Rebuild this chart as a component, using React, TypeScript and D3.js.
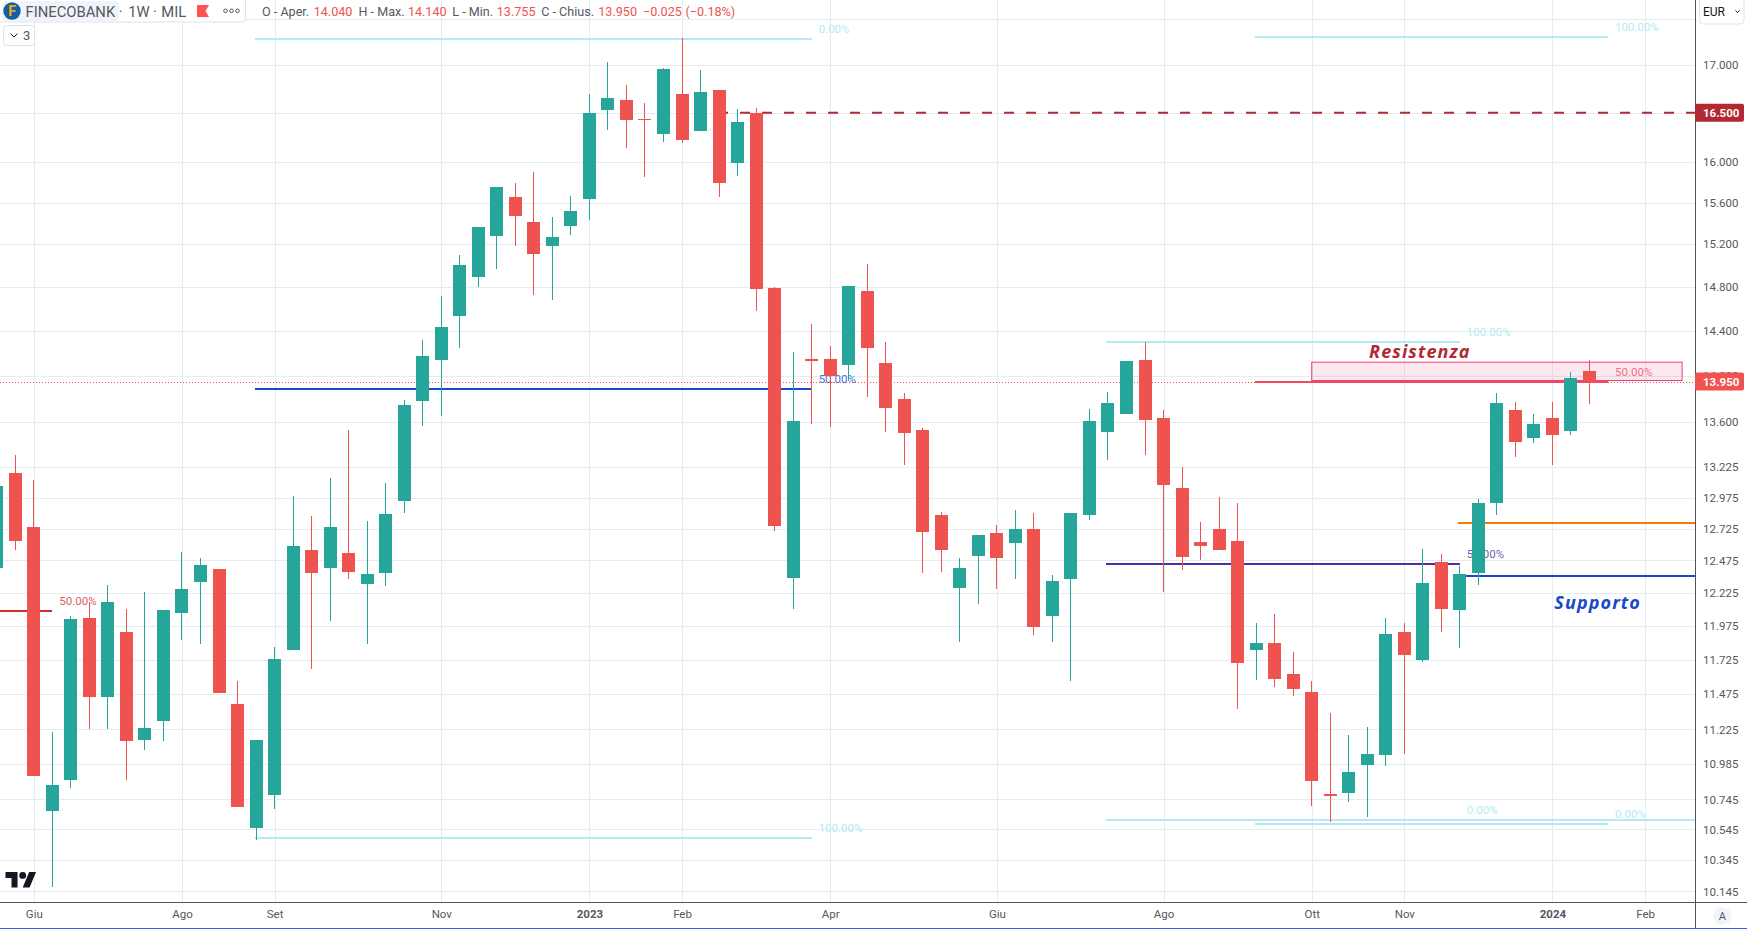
import * as d3 from 'd3';
import React, { useRef, useEffect } from 'react';

const firstIndex = -1;

// weekly candles, oldest first (first bar is mostly off the left edge)
const opens = [12.413, 13.178, 12.741, 10.67, 10.879, 12.036, 11.456, 11.932, 11.153, 11.287, 12.075, 12.311, 12.41, 11.406, 10.557, 10.776, 11.797, 12.556, 12.418, 12.532, 12.295, 12.379, 12.948, 13.784, 14.14, 14.537, 14.893, 15.279, 15.655, 15.414, 15.183, 15.375, 15.635, 16.53, 16.632, 16.438, 16.285, 16.695, 16.315, 16.737, 15.992, 16.5, 14.791, 12.342, 14.149, 14.149, 14.097, 14.763, 14.114, 13.799, 13.536, 12.836, 12.264, 12.511, 12.693, 12.613, 12.725, 12.052, 12.334, 12.836, 13.519, 13.671, 14.14, 13.637, 13.053, 12.621, 12.724, 12.629, 11.797, 11.849, 11.623, 11.492, 10.783, 10.79, 10.981, 11.049, 11.932, 11.724, 12.464, 12.096, 12.379, 12.931, 13.705, 13.468, 13.637, 13.527, 14.04];
const highs = [13.1, 13.325, 13.119, 11.209, 12.051, 12.156, 12.288, 12.105, 12.233, 12.097, 12.54, 12.496, 12.41, 11.572, 11.153, 11.819, 12.988, 12.828, 13.136, 13.536, 12.788, 13.094, 13.79, 14.318, 14.716, 15.098, 15.366, 15.754, 15.792, 15.901, 15.462, 15.665, 16.695, 17.032, 16.79, 16.601, 16.968, 17.289, 16.947, 16.737, 16.54, 16.55, 14.8, 14.21, 14.462, 14.264, 14.809, 15.015, 14.3, 13.851, 13.553, 12.86, 12.496, 12.676, 12.756, 12.875, 12.851, 12.363, 12.851, 13.713, 13.86, 14.132, 14.3, 13.705, 13.226, 12.78, 12.98, 12.931, 11.999, 12.066, 11.782, 11.572, 11.343, 11.188, 11.244, 12.036, 11.999, 12.565, 12.526, 12.433, 12.963, 13.851, 13.773, 13.671, 13.773, 14.035, 14.14];
const lows = [12.35, 12.556, 10.902, 10.173, 10.824, 11.23, 11.23, 10.879, 11.084, 11.146, 11.872, 11.843, 11.486, 10.696, 10.477, 10.683, 11.797, 11.66, 12.014, 12.332, 11.843, 12.28, 12.851, 13.572, 13.654, 14.246, 14.8, 14.968, 15.183, 14.726, 14.679, 15.289, 15.433, 16.325, 16.141, 15.853, 16.203, 16.193, 16.315, 15.655, 15.863, 14.58, 12.709, 12.105, 13.586, 13.561, 13.956, 13.816, 13.519, 13.243, 12.379, 12.387, 11.858, 12.14, 12.257, 12.332, 11.908, 11.858, 11.572, 12.795, 13.284, 13.671, 13.325, 12.233, 12.403, 12.48, 12.557, 11.371, 11.579, 11.528, 11.463, 10.702, 10.596, 10.729, 10.629, 10.974, 11.056, 11.71, 11.932, 11.812, 12.287, 12.836, 13.308, 13.425, 13.243, 13.493, 13.755];
const closes = [13.07, 12.631, 10.902, 10.844, 12.029, 11.456, 12.156, 11.146, 11.238, 12.097, 12.257, 12.441, 11.486, 10.696, 11.153, 11.732, 12.589, 12.379, 12.741, 12.387, 12.372, 12.844, 13.748, 14.175, 14.435, 15.005, 15.366, 15.754, 15.471, 15.108, 15.27, 15.519, 16.5, 16.653, 16.428, 16.428, 16.958, 16.223, 16.716, 15.792, 16.407, 14.781, 12.75, 13.612, 14.132, 14, 14.809, 14.246, 13.722, 13.51, 12.701, 12.556, 12.418, 12.676, 12.496, 12.725, 11.969, 12.319, 12.851, 13.613, 13.765, 14.132, 13.62, 13.078, 12.503, 12.589, 12.557, 11.698, 11.849, 11.586, 11.514, 10.872, 10.769, 10.933, 11.056, 11.917, 11.761, 12.302, 12.104, 12.372, 12.931, 13.765, 13.434, 13.586, 13.493, 13.983, 13.95];

// 17.500 only shows as a grid line, its label sits under the currency button
const gridTicks = [17.5, 17, 16.5, 16, 15.6, 15.2, 14.8, 14.4, 14, 13.6, 13.225, 12.975, 12.725, 12.475, 12.225, 11.975, 11.725, 11.475, 11.225, 10.985, 10.745, 10.545, 10.345, 10.145];
const priceTicks = [17, 16, 15.6, 15.2, 14.8, 14.4, 14, 13.6, 13.225, 12.975, 12.725, 12.475, 12.225, 11.975, 11.725, 11.475, 11.225, 10.985, 10.745, 10.545, 10.345, 10.145];
const timeTickIndex = [1, 9, 14, 23, 31, 36, 44, 53, 62, 70, 75, 83, 88];
const timeTickLabels = ['Giu', 'Ago', 'Set', 'Nov', '2023', 'Feb', 'Apr', 'Giu', 'Ago', 'Ott', 'Nov', '2024', 'Feb'];

const lastPrice = 13.95;
const resistancePrice = 16.5;

// fib levels: [from bar, to bar, price, label, kind]
const fibLevels: [number, number, number, string, string][] = [
  [13, 43, 17.278, '0.00%', 'cyan'],
  [13, 43, 13.889, '50.00%', 'blue'],
  [13, 43, 10.49, '100.00%', 'cyan'],
  [59, 78, 14.3, '100.00%', 'cyan'],
  [59, 78, 12.451, '50.00%', 'purple'],
  [59, 78, 10.605, '0.00%', 'cyan'],
  [67, 86, 17.303, '100.00%', 'cyan'],
  [67, 86, 13.95, '50.00%', 'pink'],
  [67, 86, 10.583, '0.00%', 'cyan'],
  [-3, 2, 12.089, '50.00%', 'red'],
  [78, 100, 12.774, '', 'orange'],
  [78, 100, 12.356, '', 'blue'],
  [78, 100, 10.605, '', 'cyan'],
];

const legendValues = ['14.040', '14.140', '13.755', '13.950', '−0.025', '(−0.18%)'];
const legendNames = ['O - Aper.', 'H - Max.', 'L - Min.', 'C - Chius.'];

const colors = {
  up: '#26a69a',
  down: '#ef5350',
  grid: '#e3ecf1',
  axis: '#50535e',
  text: '#55585f',
  cyan: '#b2ebf2',
  blue: '#1848cc',
  purple: '#512da8',
  pink: '#f2495f',
  red: '#d32f2f',
  orange: '#f57c00',
  darkRed: '#b22833',
};

const width = 1747;
const height = 929;
const plotRight = 1695;
const plotBottom = 902;
const bodyWidth = 13;
const fontFamily = 'Roboto, sans-serif';

function App() {
  const svgRef = useRef<SVGSVGElement>(null);

  useEffect(() => {
    const svg = d3.select(svgRef.current);
    svg.selectAll('*').remove();

    const x = d3.scaleLinear().domain([0, 85]).range([15.3, 1589.5]);
    const y = d3.scaleLog().domain([17, 10.145]).range([65, 891.4]);
    const bars = d3.range(opens.length).map((i) => ({
      index: i + firstIndex,
      open: opens[i],
      high: highs[i],
      low: lows[i],
      close: closes[i],
    }));
    const barColor = (d) => (d.close >= d.open ? colors.up : colors.down);

    svg
      .append('defs')
      .append('clipPath')
      .attr('id', 'plot-clip')
      .append('rect')
      .attr('width', plotRight)
      .attr('height', plotBottom);

    // grid
    const grid = svg.append('g').attr('shape-rendering', 'crispEdges');
    grid
      .append('g')
      .attr('transform', `translate(${plotRight},0)`)
      .call(d3.axisLeft(y).tickValues(gridTicks).tickSize(plotRight).tickFormat(() => ''))
      .call((g) => g.select('.domain').remove())
      .selectAll('line')
      .attr('stroke', colors.grid);
    grid
      .append('g')
      .attr('transform', `translate(0,${plotBottom})`)
      .call(d3.axisTop(x).tickValues(timeTickIndex).tickSize(plotBottom).tickFormat(() => ''))
      .call((g) => g.select('.domain').remove())
      .selectAll('line')
      .attr('stroke', colors.grid);

    const plot = svg.append('g').attr('clip-path', 'url(#plot-clip)');

    // resistance zone
    plot
      .append('rect')
      .attr('x', x(70))
      .attr('y', y(14.12))
      .attr('width', x(90) - x(70))
      .attr('height', y(13.959) - y(14.12))
      .attr('fill', '#ec407a')
      .attr('fill-opacity', 0.12)
      .attr('stroke', '#ec407a')
      .attr('stroke-width', 1);

    // last price + dashed level
    plot
      .append('line')
      .attr('x1', 0)
      .attr('x2', plotRight)
      .attr('y1', Math.round(y(lastPrice)) + 0.5)
      .attr('y2', Math.round(y(lastPrice)) + 0.5)
      .attr('stroke', colors.down)
      .attr('stroke-dasharray', '1 2');
    plot
      .append('line')
      .attr('x1', x(38) - 1)
      .attr('x2', plotRight)
      .attr('y1', y(resistancePrice))
      .attr('y2', y(resistancePrice))
      .attr('stroke', colors.darkRed)
      .attr('stroke-width', 2)
      .attr('stroke-dasharray', '10 12');

    // fib lines and labels
    plot
      .selectAll('.fib')
      .data(fibLevels)
      .join('line')
      .attr('class', 'fib')
      .attr('shape-rendering', 'crispEdges')
      .attr('x1', (d) => x(d[0]) - 1.5)
      .attr('x2', (d) => x(d[1]))
      .attr('y1', (d) => y(d[2]))
      .attr('y2', (d) => y(d[2]))
      .attr('stroke', (d) => colors[d[4]])
      .attr('stroke-width', 2);
    plot
      .selectAll('.fib-label')
      .data(fibLevels.filter((d) => d[3] !== ''))
      .join('text')
      .attr('class', 'fib-label')
      .attr('x', (d) => x(d[1]) + 7)
      .attr('y', (d) => y(d[2]) - 10)
      .attr('dy', '0.35em')
      .attr('font-family', fontFamily)
      .attr('font-size', 11.5)
      .attr('fill', (d) => colors[d[4]])
      .attr('fill-opacity', (d) => (d[4] === 'cyan' ? 1 : 0.8))
      .text((d) => d[3]);

    // candles
    const candles = plot.append('g').attr('shape-rendering', 'crispEdges');
    candles
      .selectAll('.wick')
      .data(bars)
      .join('line')
      .attr('class', 'wick')
      .attr('x1', (d) => Math.floor(x(d.index)) + 0.5)
      .attr('x2', (d) => Math.floor(x(d.index)) + 0.5)
      .attr('y1', (d) => y(d.high))
      .attr('y2', (d) => y(d.low))
      .attr('stroke', barColor);
    candles
      .selectAll('.body')
      .data(bars)
      .join('rect')
      .attr('class', 'body')
      .attr('x', (d) => Math.floor(x(d.index)) - 6)
      .attr('y', (d) => y(Math.max(d.open, d.close)))
      .attr('width', bodyWidth)
      .attr('height', (d) => Math.max(1.5, Math.abs(y(d.open) - y(d.close))))
      .attr('fill', barColor);

    // handwritten notes
    plot
      .append('text')
      .attr('x', x(73.1))
      .attr('y', y(14.21))
      .attr('dy', '0.35em')
      .attr('font-family', '"Open Sans", sans-serif')
      .attr('font-size', 18)
      .attr('font-weight', 700)
      .attr('font-style', 'italic')
      .attr('letter-spacing', 1.1)
      .attr('fill', colors.darkRed)
      .text('Resistenza');
    plot
      .append('text')
      .attr('x', x(83.1))
      .attr('y', y(12.151))
      .attr('dy', '0.35em')
      .attr('font-family', '"Open Sans", sans-serif')
      .attr('font-size', 18)
      .attr('font-weight', 700)
      .attr('font-style', 'italic')
      .attr('letter-spacing', 1.1)
      .attr('fill', colors.blue)
      .text('Supporto');

    // price axis
    const priceAxis = svg
      .append('g')
      .attr('transform', `translate(${plotRight},0)`)
      .call(d3.axisRight(y).tickValues(priceTicks).tickSize(0).tickPadding(8).tickFormat(d3.format('.3f')));
    priceAxis.select('.domain').remove();
    priceAxis.selectAll('text').attr('font-family', fontFamily).attr('font-size', 11.5).attr('fill', colors.text);

    // time axis
    const timeAxis = svg
      .append('g')
      .attr('transform', `translate(0,${plotBottom})`)
      .call(
        d3
          .axisBottom(x)
          .tickValues(timeTickIndex)
          .tickSize(0)
          .tickPadding(8)
          .tickFormat((d, i) => timeTickLabels[i])
      );
    timeAxis.select('.domain').remove();
    timeAxis
      .selectAll('text')
      .attr('font-family', fontFamily)
      .attr('font-size', 11.5)
      .attr('fill', colors.text)
      .attr('font-weight', (d, i) => (timeTickLabels[i].length === 4 ? 700 : 400));

    // axis frame
    const frame = svg.append('g').attr('shape-rendering', 'crispEdges');
    frame.append('line').attr('x1', plotRight + 0.5).attr('x2', plotRight + 0.5).attr('y1', 0).attr('y2', height).attr('stroke', colors.axis);
    frame.append('line').attr('x1', 0).attr('x2', width).attr('y1', plotBottom + 0.5).attr('y2', plotBottom + 0.5).attr('stroke', colors.axis);
    frame.append('line').attr('x1', 0).attr('x2', width).attr('y1', height - 0.5).attr('y2', height - 0.5).attr('stroke', '#2962ff');

    // price tags
    const tags = svg
      .selectAll('.tag')
      .data([
        { price: resistancePrice, color: colors.darkRed },
        { price: lastPrice, color: colors.down },
      ])
      .join('g')
      .attr('class', 'tag')
      .attr('transform', (d) => `translate(${plotRight},${y(d.price)})`);
    tags.append('rect').attr('y', -9).attr('width', 49).attr('height', 18).attr('rx', 2).attr('fill', (d) => d.color);
    tags
      .append('text')
      .attr('x', 8)
      .attr('dy', '0.35em')
      .attr('font-family', fontFamily)
      .attr('font-size', 11.5)
      .attr('font-weight', 700)
      .attr('fill', '#fff')
      .text((d) => d3.format('.3f')(d.price));
  }, []);

  const textStyle = { fontFamily, fill: colors.text };
  const legendNameX = [262, 358.5, 452.3, 541.2];
  const legendValueX = [313.7, 407.9, 496.8, 598.3, 643, 685.5];

  return (
    <div style={{ position: 'fixed', left: 0, top: 0, width, height, background: '#fff', overflow: 'hidden' }}>
      <svg width={width} height={height} style={{ display: 'block', position: 'absolute' }} ref={svgRef} />
      <svg width={width} height={height} style={{ display: 'block', position: 'absolute' }}>
        {/* legend */}
        <path d="M-2,-2H245.5V18a4,4 0 0 1 -4,4H-2Z" fill="#fff" stroke="#dfe1ea" />
        <rect x={2} y={1} width={117} height={20} rx={4} fill="#f0f3fa" />
        <circle cx={12} cy={11} r={8.7} fill="#14609f" />
        <text x={12} y={16} textAnchor="middle" fontFamily={fontFamily} fontWeight={700} fontSize={14} fill="#f6a81c">F</text>
        <text x={25.5} y={16.5} fontSize={14.8} style={textStyle}>FINECOBANK</text>
        <text x={120.7} y={16.5} textAnchor="middle" fontSize={14.8} style={textStyle}>·</text>
        <text x={128.3} y={16.5} fontSize={14.8} style={textStyle}>1W</text>
        <text x={155} y={16.5} textAnchor="middle" fontSize={14.8} style={textStyle}>·</text>
        <text x={161.3} y={16.5} fontSize={14.8} style={textStyle}>MIL</text>
        <path d="M197,5H209L205.5,11L209,17H197Z" fill="#ff5252" />
        {[225.5, 231.5, 237.5].map((cx) => (
          <circle key={cx} cx={cx} cy={10.8} r={1.8} fill="none" stroke={colors.text} strokeWidth={1} />
        ))}
        {legendNames.map((name, i) => (
          <text key={name} x={legendNameX[i]} y={16} fontSize={12.6} style={textStyle}>{name}</text>
        ))}
        {legendValues.map((value, i) => (
          <text key={value} x={legendValueX[i]} y={16} fontSize={12.6} fontFamily={fontFamily} fill={colors.down}>{value}</text>
        ))}
        {/* collapse button */}
        <rect x={3.5} y={25.5} width={31} height={20} rx={3} fill="#fff" stroke="#dfe1ea" />
        <path d="M10.5,33.5L14,37L17.5,33.5" fill="none" stroke="#131722" strokeWidth={1} />
        <text x={23} y={40} fontSize={13} style={textStyle}>3</text>
        {/* currency button */}
        <path d="M1699.5,-2V20a4,4 0 0 0 4,4H1740a4,4 0 0 0 4,-4V-2Z" fill="#fff" stroke="#dfe1ea" />
        <text x={1703} y={16} fontSize={12} fontFamily={fontFamily} fill="#131722">EUR</text>
        <path d="M1735.5,10.5L1737.5,12.5L1739.5,10.5" fill="none" stroke="#131722" strokeWidth={1} />
        {/* auto scale */}
        <circle cx={1722.4} cy={916} r={9} fill="#f0f3fa" />
        <text x={1722.4} y={920} textAnchor="middle" fontSize={11} style={textStyle}>A</text>
        {/* logo */}
        <g transform="translate(5.5,868.5) scale(0.86)" fill="#131722">
          <path d="M14 22H7V11H0V4h14v18zM28 22h-8l7.5-18h8L28 22z" />
          <circle cx={20} cy={8} r={4} />
        </g>
      </svg>
    </div>
  );
}

export default App;
